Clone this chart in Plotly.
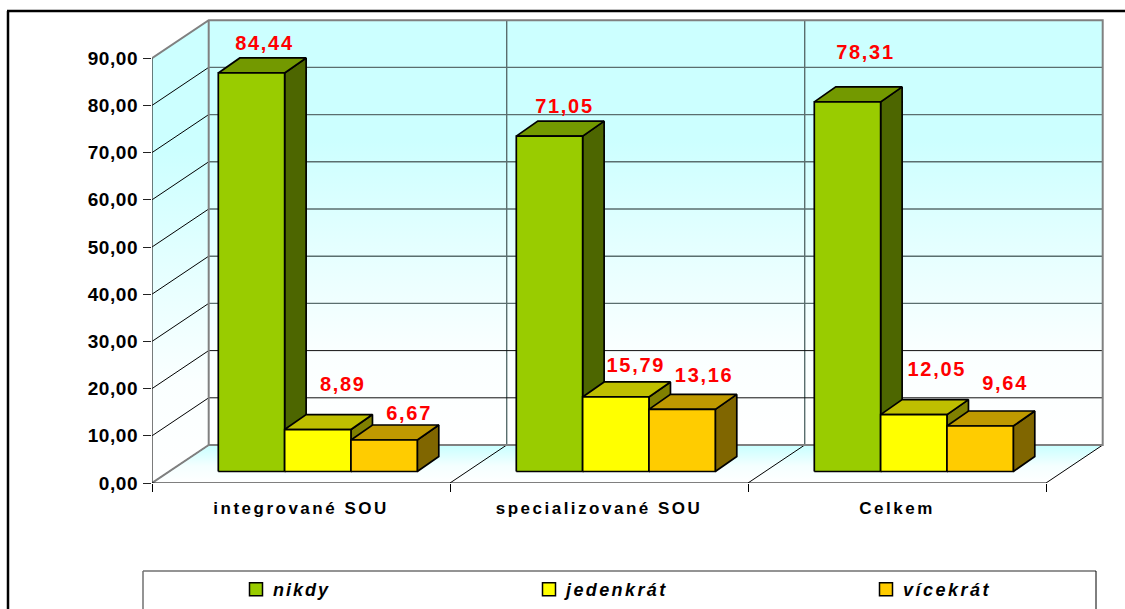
import plotly.graph_objects as go

categories = ["integrované SOU", "specializované SOU", "Celkem"]
series_names = ["nikdy", "jedenkrát", "vícekrát"]
nikdy = [84.44, 71.05, 78.31]
jedenkrat = [8.89, 15.79, 12.05]
vicekrat = [6.67, 13.16, 9.64]
label_text = [["84,44", "71,05", "78,31"], ["8,89", "15,79", "12,05"], ["6,67", "13,16", "9,64"]]
y_ticks = [0, 10, 20, 30, 40, 50, 60, 70, 80, 90]
y_tick_text = ["0,00", "10,00", "20,00", "30,00", "40,00", "50,00", "60,00", "70,00", "80,00", "90,00"]

# page geometry (pixels) and oblique-projection constants
W, H = 1125, 609
L, R, T, B = 152, 1110, 15, 483
GROUP_PX, UNIT_PX = 298.0, 4.72
DX = 56.7 / GROUP_PX
DY = 38.0 / UNIT_PX
BAR_START, BAR_W = 66.3 / GROUP_PX, 66.33 / GROUP_PX
BAR_DX, BAR_DY = 21.5 / GROUP_PX, 15.0 / UNIT_PX
BASE = 11.5 / UNIT_PX
values = [nikdy, jedenkrat, vicekrat]
faces = [("#99CC00", "#739900", "#4D6600"), ("#FFFF00", "#BFBF00", "#808000"), ("#FFCC00", "#BF9900", "#806600")]
# label placement relative to the bar's top-front centre
label_dx = [[13, 15, 18], [25, 20, 23], [25, 22, 25]]
label_lift = [[28, 28, 48], [44, 30, 44], [25, 32, 41]]

fig = go.Figure()
n = len(categories)


def poly(xs, ys, fill=None, line="black", width=1.7, gradient=None):
    kw = dict(x=xs, y=ys, mode="lines", showlegend=False, hoverinfo="skip")
    if gradient or fill:
        kw["fill"] = "toself"
    if fill:
        kw["fillcolor"] = fill
    if gradient:
        kw["fillgradient"] = gradient
    kw["line"] = dict(color=line, width=width) if line else dict(width=0)
    fig.add_trace(go.Scatter(**kw))


top = y_ticks[-1]
wall_scale = [[0, "#FFFFFF"], [0.22, "#FAFFFF"], [0.45, "#E6FFFF"], [0.72, "#CCFFFF"], [1, "#CCFFFF"]]
grad = dict(type="vertical", colorscale=wall_scale)
floor_scale = [[0, "#FFFFFF"], [0.45, "#F4FFFF"], [1, "#C8FFFF"]]

# back wall, side wall, floor
poly([DX, n + DX, n + DX, DX, DX], [DY, DY, top + DY, top + DY, DY], line=None, gradient=grad)
poly([0, DX, DX, 0, 0], [0, DY, top + DY, top, 0], line=None, gradient=grad)
poly([0, n, n + DX, DX, 0], [0, 0, DY, DY, 0], line=None,
     gradient=dict(type="vertical", colorscale=floor_scale))

# grid on back wall: heavier grey in the upper part, thin black low down
gx, gy = [], []
for v in y_ticks[3:-1]:
    gx += [DX, n + DX, None]
    gy += [v + DY, v + DY, None]
for k in range(1, n):
    gx += [k + DX, k + DX, None]
    gy += [DY, top + DY, None]
poly(gx, gy, line="#5A6E6E", width=1.4)
lx, ly = [], []
for v in y_ticks[1:3]:
    lx += [DX, n + DX, None]
    ly += [v + DY, v + DY, None]
poly(lx, ly, line="#111111", width=1)

# grid on side wall and floor
sx, sy = [], []
for v in y_ticks[:-1]:
    sx += [0, DX, None]
    sy += [v, v + DY, None]
for k in range(1, n + 1):
    sx += [k, k + DX, None]
    sy += [0, DY, None]
poly(sx, sy, line="black", width=1)

# wall outline
poly([0, DX, n + DX, n + DX, DX, DX], [top, top + DY, top + DY, DY, DY, top + DY], line="#808080", width=2)
poly([0, DX], [0, DY], line="#808080", width=2)
poly([DX, n + DX], [DY, DY], line="#808080", width=2)

# axis lines
poly([0, 0], [0, top], line="#222222", width=1.2)
poly([0, n], [0, 0], line="black", width=1.2)

# bars
for s, vals in enumerate(values):
    fx, fy, tx, ty, ex, ey = [], [], [], [], [], []
    for g, v in enumerate(vals):
        x0 = g + BAR_START + s * BAR_W
        x1 = x0 + BAR_W
        y0, y1 = BASE, BASE + v
        fx += [x0, x1, x1, x0, x0, None]
        fy += [y0, y0, y1, y1, y0, None]
        tx += [x0, x1, x1 + BAR_DX, x0 + BAR_DX, x0, None]
        ty += [y1, y1, y1 + BAR_DY, y1 + BAR_DY, y1, None]
        ex += [x1, x1 + BAR_DX, x1 + BAR_DX, x1, x1, None]
        ey += [y0, y0 + BAR_DY, y1 + BAR_DY, y1, y0, None]
    front, upper, side = faces[s]
    poly(ex, ey, fill=side)
    poly(tx, ty, fill=upper)
    poly(fx, fy, fill=front)

# data labels
for s, vals in enumerate(values):
    xs = [g + BAR_START + (s + 0.5) * BAR_W + label_dx[s][g] / GROUP_PX for g in range(n)]
    ys = [BASE + v + label_lift[s][g] / UNIT_PX for g, v in enumerate(vals)]
    fig.add_trace(go.Scatter(x=xs, y=ys, mode="text", text=label_text[s], textposition="middle center",
                             textfont=dict(family="Liberation Sans", size=20, color="#FF0000", weight="bold"),
                             cliponaxis=False, showlegend=False, hoverinfo="skip"))

# legend entries
legend_ids = ["legend", "legend2", "legend3"]
for s, name in enumerate(series_names):
    fig.add_trace(go.Scatter(x=[None], y=[None], mode="markers", name=name, legend=legend_ids[s],
                             marker=dict(symbol="square", size=13, color=faces[s][0], line=dict(color="black", width=1.5))))


def legend_at(px):
    return dict(x=px / W, y=1 - 571 / H, xref="container", yref="container", xanchor="left", yanchor="top",
                bgcolor="rgba(0,0,0,0)", borderwidth=0, itemwidth=30,
                font=dict(family="Liberation Sans", size=18, color="black", weight="bold", style="italic"))


w_plot, h_plot = R - L, B - T


def px(x):
    return (x - L) / w_plot


def py(y):
    return (B - y) / h_plot


def line_shape(x0, y0, x1, y1, color, width):
    return dict(type="line", xref="paper", yref="paper", x0=px(x0), y0=py(y0), x1=px(x1), y1=py(y1),
                line=dict(color=color, width=width))


fig.update_layout(
    width=W, height=H, margin=dict(l=L, r=W - R, t=T, b=H - B, pad=0, autoexpand=False),
    paper_bgcolor="white", plot_bgcolor="white",
    font=dict(family="Liberation Sans", color="black"),
    showlegend=True,
    legend=legend_at(233), legend2=legend_at(526), legend3=legend_at(863),
    xaxis=dict(range=[0, (R - L) / GROUP_PX], showgrid=False, zeroline=False, showline=False,
               tickmode="array", tickvals=[g + 0.5 for g in range(n)], ticktext=categories,
               tickangle=0, automargin=False,
               ticks="outside", ticklen=8, tickcolor="rgba(0,0,0,0)", ticklabelstandoff=2,
               tickfont=dict(family="Liberation Sans", size=17, color="black", weight="bold"),
               minor=dict(tickmode="array", tickvals=list(range(n + 1)), ticks="outside", ticklen=8,
                          tickcolor="black", tickwidth=1, showgrid=False)),
    yaxis=dict(range=[0, (B - T) / UNIT_PX], showgrid=False, zeroline=False, showline=False,
               tickmode="array", tickvals=y_ticks, ticktext=y_tick_text, automargin=False,
               ticks="outside", ticklen=8, tickcolor="#222222", tickwidth=1.2, ticklabelstandoff=1,
               tickfont=dict(family="Liberation Sans", size=19, color="black", weight="bold")),
    shapes=[
        line_shape(7, 11, W, 11, "black", 2.5),
        line_shape(8, 11, 8, H, "black", 2.5),
        line_shape(143, 571, 1096, 571, "#707070", 1.5),
        line_shape(143, 571, 143, H, "#707070", 1.5),
        line_shape(1096, 571, 1096, H, "black", 1),
    ],
)

css = """
html,body{margin:0;padding:0;overflow:hidden;background:#fff}
.xtick text{letter-spacing:2.5px}
.ytick text{letter-spacing:.6px}
.textpoint text{letter-spacing:1.7px}
.legendtext{letter-spacing:2px}
.legend2text{letter-spacing:2.4px}
.legend3text{letter-spacing:2.5px}
.legendsymbols{transform:translateX(3px)}
.scrollbox{clip-path:none !important}
"""
post = "var s=document.createElement('style');s.textContent=%r;document.head.appendChild(s);" % css
fig.write_html("out.html", post_script=post, config=dict(displayModeBar=False))
